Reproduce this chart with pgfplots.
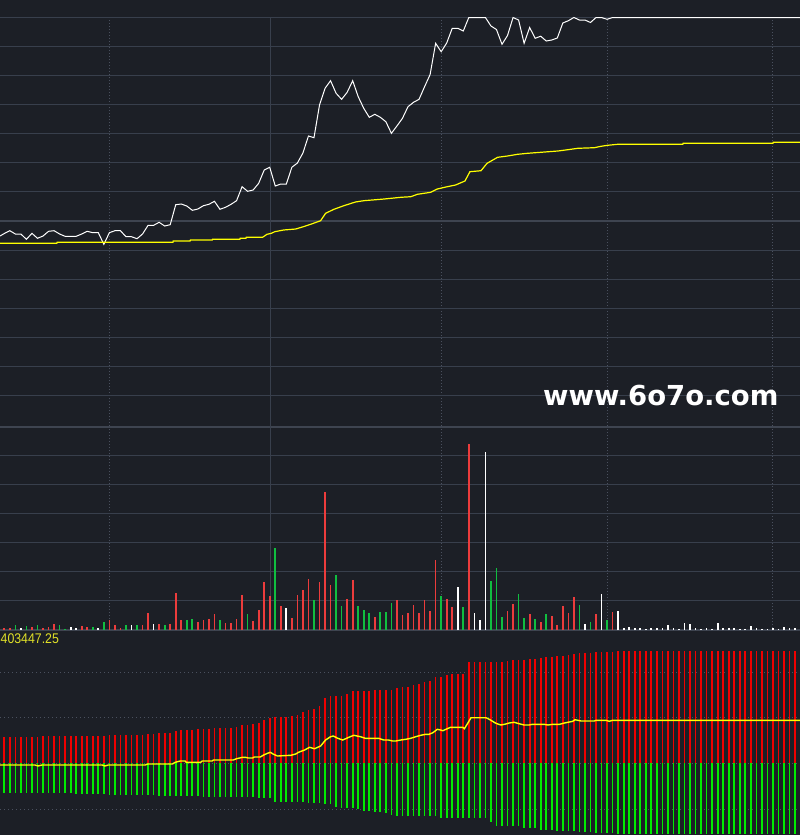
\documentclass[border=0pt]{standalone}
\usepackage{pgfplots}
\pgfplotsset{compat=1.18}
\usepackage{pgfplotstable}
\usepackage{fontspec}
\newfontfamily\wmfont{DejaVu Sans}
\newfontfamily\lblfont{Liberation Sans}
\definecolor{bg}{RGB}{28,31,38}
\definecolor{gridc}{RGB}{56,63,76}
\definecolor{gridthick}{RGB}{62,68,80}
\definecolor{dotc}{RGB}{74,80,94}
\definecolor{vred}{RGB}{236,60,60}
\definecolor{vgreen}{RGB}{16,190,64}
\definecolor{bred}{RGB}{240,0,0}
\definecolor{bgreen}{RGB}{0,235,0}
\definecolor{avgy}{RGB}{255,255,0}
\definecolor{lbly}{RGB}{225,225,40}

\pgfplotstableread{
i r g
0 25.7 -29.7
1 25.7 -29.7
2 25.7 -29.7
3 25.7 -29.7
4 25.7 -29.7
5 25.7 -29.7
6 25.7 -29.7
7 26.7 -30.3
8 27 -30.3
9 27 -30.3
10 27 -30.3
11 27 -30.3
12 27 -30.3
13 27 -31.3
14 27 -31.3
15 27 -31.3
16 27 -31.3
17 27 -31.3
18 27 -31.3
19 28 -32
20 28 -32
21 28 -32
22 28 -32
23 28 -32
24 28 -32
25 28 -32
26 29 -32
27 29 -32
28 30 -32.7
29 30 -32.7
30 30 -32.7
31 32 -32.7
32 33 -32.7
33 33 -32.7
34 33 -32.7
35 33.7 -32.7
36 34 -33.7
37 34 -33.7
38 34.7 -33.7
39 34.7 -33.7
40 35 -33.7
41 35.3 -34.3
42 36 -34.3
43 37.7 -34.3
44 38.3 -34.3
45 39 -34.3
46 40 -35.3
47 43 -35.3
48 45 -35.3
49 45.7 -38.7
50 45.7 -38.7
51 46.3 -38.7
52 46.7 -38.7
53 48 -38.7
54 51 -39.3
55 53 -40.3
56 53.7 -40.3
57 57 -40.3
58 65 -41
59 67 -41
60 67 -43.7
61 67 -44.7
62 69 -44.7
63 71.7 -44.7
64 71.7 -46.3
65 71.7 -47.7
66 72 -47.7
67 72.7 -48.7
68 72.7 -48.7
69 72.7 -50.3
70 73 -52
71 75 -52.7
72 75.7 -52.7
73 75.7 -52.7
74 78 -53
75 79 -53
76 80.7 -53
77 82 -53
78 85.7 -53
79 85.7 -55.3
80 88 -55.3
81 88.7 -55.3
82 89 -55.3
83 89 -55.3
84 100.7 -55.3
85 100.7 -55.3
86 100.7 -55.3
87 100.7 -55.3
88 100.7 -58.7
89 100.7 -62.7
90 101.3 -62.7
91 102.3 -62.7
92 103 -62.7
93 103 -62.7
94 103 -65.3
95 104 -65.3
96 104 -65.3
97 105 -66.7
98 105.7 -66.7
99 105.7 -66.7
100 106.7 -68.2
101 107.3 -68.2
102 108 -68.2
103 109 -68.2
104 109.7 -68.7
105 109.7 -68.7
106 109.7 -68.7
107 110.7 -69.7
108 110.7 -69.7
109 110.7 -69.7
110 110.7 -69.7
111 111.7 -71
112 111.7 -71
113 111.7 -71
114 111.7 -71
115 111.7 -71
116 111.7 -71
117 111.7 -71
118 111.7 -71
119 111.7 -71
120 111.7 -71
121 111.7 -71
122 111.7 -71
123 111.7 -71
124 111.7 -71
125 111.7 -71
126 111.7 -71
127 111.7 -71
128 111.7 -71
129 111.7 -71
130 111.7 -71
131 111.7 -71
132 111.7 -71
133 111.7 -71
134 111.7 -71
135 111.7 -71
136 111.7 -71
137 111.7 -71
138 111.7 -71
139 111.7 -71
140 111.7 -71
141 111.7 -71
142 111.7 -71
143 111.7 -71
}\bottomdata

\pgfplotsset{
  panel/.style={scale only axis, width=800pt, xmin=-0.778, xmax=143.89,
    axis line style={draw=none}, major tick length=0pt,
    xticklabels={,,}, yticklabels={,,},
    clip=false, no markers, anchor=north west},
}

\begin{document}
\begin{tikzpicture}
\fill[bg] (0pt,0pt) rectangle (800pt,-835pt);

% ---------------- price panel ----------------
\begin{axis}[panel, at={(0pt,-17pt)}, height=410.5pt, ymin=17, ymax=427.5, y dir=reverse,
  xtick={19,79,109,139}, ytick={17,46,75,104,133,162,191,250,279,308,337,366,395},
  xmajorgrids, ymajorgrids,
  x grid style={dotc, line width=1pt, dash pattern=on 1pt off 2pt},
  y grid style={gridc, line width=1pt}]
\draw[gridthick, line width=2pt] (axis cs:-0.778,221) -- (axis cs:143.89,221);
\draw[gridthick, line width=2pt] (axis cs:-0.778,426.6) -- (axis cs:143.89,426.6);
\draw[gridc, line width=1pt] (axis cs:48.17,17) -- (axis cs:48.17,427.5);
\addplot[white, line width=1pt] coordinates {
(-0.778,236) (0,233.5) (1,230.7) (2,234) (3,234) (4,239.3) (5,233.3) (6,238.3) (7,236)
(8,231.3) (9,230.7) (10,234) (11,236.3) (12,236.3) (13,236.3) (14,234) (15,231.3)
(16,232.7) (17,232.7) (18,244.3) (19,232.7) (20,230.7) (21,230.7) (22,236.7) (23,236.7)
(24,238.7) (25,234) (26,225.3) (27,225.3) (28,222.3) (29,226) (30,224.7) (31,204.7)
(32,204) (33,206) (34,210.3) (35,209) (36,205.7) (37,204.3) (38,201.3) (39,209.3)
(40,207.3) (41,204.3) (42,200.7) (43,186.7) (44,191.3) (45,190) (46,183.3) (47,170)
(48,167.3) (49,186) (50,184) (51,184) (52,167.3) (53,163) (54,153) (55,136) (56,137.7)
(57,105) (58,88.3) (59,80.7) (60,93.3) (61,99.3) (62,92.3) (63,80.7) (64,96.7)
(65,108.3) (66,117.3) (67,114.3) (68,117.3) (69,121.7) (70,133.3) (71,126) (72,118.3)
(73,106.7) (74,102.3) (75,99.3) (76,86.7) (77,74.5) (78,43.3) (79,51.7) (80,43)
(81,28.3) (82,28.3) (83,31) (84,17.5) (85,17.5) (86,17.5) (87,17.5) (88,26) (89,29.5)
(90,44.3) (91,35.5) (92,17.5) (93,20) (94,43.3) (95,27.5) (96,38.3) (97,36.2) (98,41)
(99,40) (100,38) (101,23) (102,20.7) (103,17.5) (104,20) (105,20) (106,22.5) (107,17.5)
(108,17.5) (109,19.3) (110,17.5) (143.89,17.5)
};
\addplot[avgy, line width=1.2pt] coordinates {
(-0.778,243.3) (9.5,243.3) (9.55,242.3) (30.5,242.3) (30.55,241) (33.6,241) (33.65,240)
(37.6,240) (37.65,239.3) (42.6,239.3) (42.65,238.3) (43.7,238.3) (43.75,237.3) (46.7,237.3)
(47.5,234.3) (48.3,233.3) (48.9,231.7) (50.5,230) (52.7,229) (53.9,227) (55.4,224.3)
(57.2,220.7) (58.1,213.3) (59.6,209.3) (61.4,205.7) (63.5,202) (65,200.7) (68.7,199)
(71.7,197.3) (73.5,196.7) (74.7,194.3) (77.1,192.3) (78.3,189) (80.1,186.7) (81.6,185)
(83.3,181) (84.2,171.7) (86.2,170.7) (87.3,163.3) (89.2,157.3) (91,156) (92.8,154.3)
(94.6,153.3) (97,152.3) (100.1,151) (101.9,149.7) (103.7,148.3) (106.7,147.7) (107.9,146.3)
(109.1,145.3) (110.9,144.3) (122.7,144.3) (122.75,143.3) (139,143.3) (139.05,142.3)
(143.89,142.3)
};
\end{axis}

% ---------------- volume panel ----------------
\begin{axis}[panel, at={(0pt,-427.5pt)}, height=203.5pt, ymin=-1, ymax=202.5,
  xtick={19,79,109,139}, ytick={30,59,88,117,146,175},
  xmajorgrids, ymajorgrids,
  x grid style={dotc, line width=1pt, dash pattern=on 1pt off 2pt},
  y grid style={gridc, line width=1pt}]
\draw[gridc, line width=1pt] (axis cs:48.17,-1) -- (axis cs:48.17,202.5);
\draw[gridthick, line width=1.2pt] (axis cs:-0.778,0) -- (axis cs:143.89,0);
\addplot[ycomb, vred, line width=1.7pt] coordinates {
(0,2.3)(1,2.3)(5,3)(7,2)(8,3)(9,6)(14,4)(15,3)(19,10)(20,5)(21,2)(25,5)(26,17)(28,6)(30,6)
(31,37)(32,10)(35,8)(36,10)(37,11)(38,16)(40,7)(41,7)(42,11)(43,35)(45,9)(46,20)(47,48)
(48,34)(50,24)(52,12)(53,35)(54,40)(55,51)(57,48)(58,138)(59,45)(62,31)(63,50)(67,13)
(71,30)(72,15)(73,17)(74,25)(75,17)(76,30)(77,19)(78,70)(80,31)(81,23)(84,186)(91,19)
(92,26)(95,16)(97,8)(99,14)(100,5)(101,24)(102,17)(103,33)(107,16)(110,18)
};
\addplot[ycomb, vgreen, line width=1.7pt] coordinates {
(2,5)(4,4)(6,5)(10,5)(11,1)(16,3)(18,8)(22,5)(24,5)(29,5)(33,10)(34,11)(39,10)(44,16)
(49,82)(56,30)(60,55)(61,24)(64,24)(65,20)(66,17)(68,18)(69,18)(70,27)(79,34)(83,23)
(88,49)(89,62)(90,13)(93,36)(94,12)(96,11)(98,16)(104,25)(106,8)(109,10)
};
\addplot[ycomb, white, line width=1.7pt] coordinates {
(3,2)(12,3)(13,2)(17,2)(23,5)(27,6)(51,22)(82,43)(85,17)(86,10)(87,178)(105,6)(108,36)
(111,19)(112,1.7)(113,3)(114,2)(115,2)(116,1)(117,2)(118,2)(119,2)(120,5)(121,2)(122,1)
(123,7)(124,6)(125,2)(126,1)(127,2)(128,1)(129,7)(130,2)(131,2)(132,2)(133,1)(134,1)
(135,4)(136,2)(137,1)(138,1)(139,2)(140,1)(141,3)(142,2)(143,2)
};
\end{axis}

% ---------------- bottom panel ----------------
\begin{axis}[panel, at={(0pt,-631pt)}, height=204pt, ymin=-72, ymax=132,
  xtick=\empty, ytick={-46,0,46,91}, ymajorgrids,
  y grid style={dotc, line width=1pt, dash pattern=on 1pt off 3pt}]
\addplot[ycomb, bred, line width=1.7pt] table[x=i, y=r] {\bottomdata};
\addplot[ycomb, bgreen, line width=1.7pt] table[x=i, y=g] {\bottomdata};
\addplot[avgy, line width=1.4pt] coordinates {
(-0.778,-2) (5.56,-2) (6.1,-3) (6.8,-2) (17.7,-2) (18.2,-3) (18.8,-2) (25.5,-2) (25.9,-1)
(30.4,-1) (30.9,0.7) (31.8,2) (32.7,2) (32.9,0.7) (35.5,0.7) (35.8,2) (37.6,2) (37.8,3)
(41.4,3) (42,4.3) (43.1,5.7) (43.6,5.7) (44.1,5) (44.9,5) (45.2,6) (46.3,6) (46.9,8)
(47.6,9.7) (48.1,10.7) (48.7,8.7) (49.4,7) (51.8,7.7) (52.7,9) (53.2,10.7) (54.3,13)
(55.2,15.7) (56.1,14.3) (57.2,17) (58.1,23) (59,26.3) (59.5,27) (60.3,24.7) (61.2,23)
(62.3,25.7) (63.2,27.7) (64.4,26.3) (65.3,24.7) (67.7,24.7) (68.6,23) (69.5,23) (70.2,22)
(70.8,22) (71.7,23) (72.6,23.7) (73.5,24.7) (74.4,26.3) (75.3,27.7) (76.2,28.7) (76.8,28.7)
(77.5,30.3) (78.3,33.7) (78.9,33) (79.3,32.3) (80.1,34.3) (80.7,35.7) (82.9,35.7) (83.2,34.3)
(83.8,39.7) (84.4,45.3) (87.1,45.3) (87.7,43.7) (88.9,39.7) (89.8,38) (90.7,39) (91.3,40)
(92.2,40.7) (93.1,39.3) (94,38) (94.9,38) (95.5,38.7) (97.6,38.7) (98.3,38) (99.2,38.7)
(100.4,38.7) (101.3,40) (102.8,41.7) (103.2,43.3) (104.3,42) (106.7,42) (107,42.7)
(108.8,42.7) (109.4,41.7) (110,42.7) (143.89,42.7)
};
\end{axis}

\node[anchor=north west, inner sep=0pt, text=lbly, xscale=0.88,
  font=\lblfont\fontsize{14}{14}\selectfont] at (0.5pt,-634pt) {403447.25};
\node[anchor=base west, inner sep=0pt, text=white,
  font=\wmfont\bfseries\fontsize{27.5}{28}\selectfont] at (543pt,-405pt) {www.6o7o.com};

\pgfresetboundingbox
\path[use as bounding box] (0pt,0pt) rectangle (800pt,-835pt);
\end{tikzpicture}
\end{document}
